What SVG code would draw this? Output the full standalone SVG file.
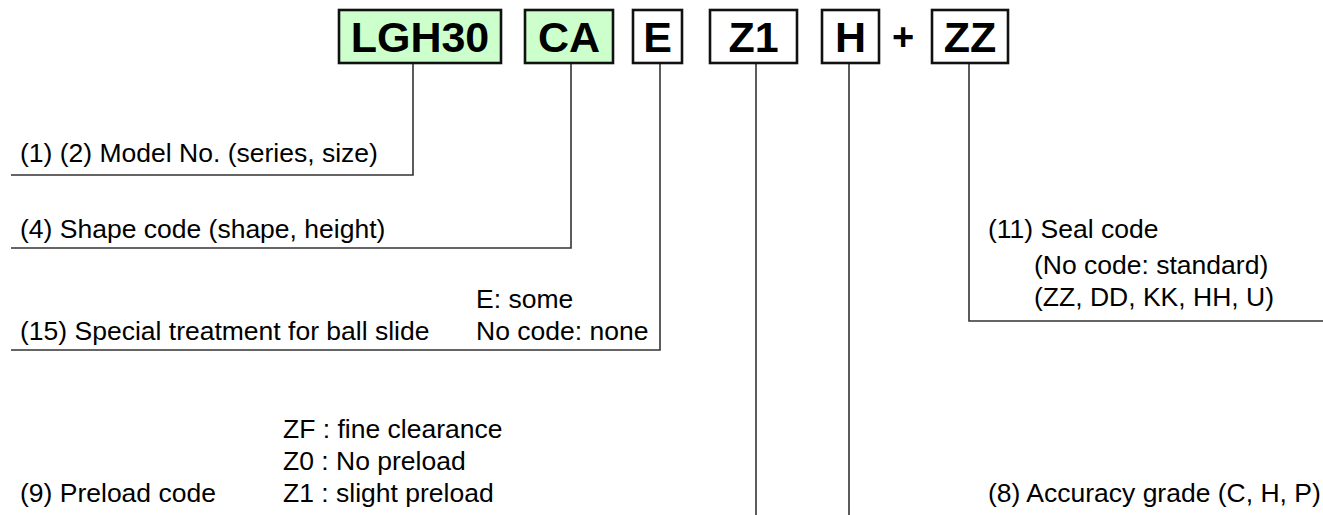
<svg xmlns="http://www.w3.org/2000/svg" width="1323" height="515" viewBox="0 0 1323 515">
<style>
.box{stroke:#111;stroke-width:2.6;}
.g{fill:#ccffcc;}
.w{fill:#ffffff;}
.code{font-family:"Liberation Sans",Arial,sans-serif;font-weight:bold;font-size:43px;text-anchor:middle;fill:#000;}
.lbl{font-family:"Liberation Sans",Arial,sans-serif;font-size:26.5px;fill:#000;}
.ln{fill:none;stroke:#333;stroke-width:1.6;}
</style>
<rect width="1323" height="515" fill="#fff"/>
<g id="connectors">
<polyline class="ln" points="413,63 413,175 11,175"/>
<polyline class="ln" points="571,63 571,248 11,248"/>
<polyline class="ln" points="660,63 660,350 11,350"/>
<polyline class="ln" points="756,63 756,515"/>
<polyline class="ln" points="849,63 849,515"/>
<polyline class="ln" points="969,63 969,321 1323,321"/>
</g>
<g id="n-lgh30"><rect class="box g" x="339" y="10" width="162" height="53"/><text class="code" x="420" y="52">LGH30</text></g>
<g id="n-ca"><rect class="box g" x="525" y="10" width="88" height="53"/><text class="code" x="569" y="52">CA</text></g>
<g id="n-e"><rect class="box w" x="633" y="10" width="49" height="53"/><text class="code" x="657.5" y="52">E</text></g>
<g id="n-z1"><rect class="box w" x="710" y="10" width="87" height="53"/><text class="code" x="753.5" y="52">Z1</text></g>
<g id="n-h"><rect class="box w" x="822" y="10" width="57" height="53"/><text class="code" x="850.5" y="52">H</text></g>
<g id="n-plus"><text class="code" x="903" y="50" style="font-size:38px">+</text></g>
<g id="n-zz"><rect class="box w" x="932" y="10" width="76" height="53"/><text class="code" x="970" y="52">ZZ</text></g>
<g id="l-model"><text class="lbl" x="20" y="162">(1) (2) Model No. (series, size)</text></g>
<g id="l-shape"><text class="lbl" x="20" y="238">(4) Shape code (shape, height)</text></g>
<g id="l-special"><text class="lbl" x="20" y="340">(15) Special treatment for ball slide</text>
<text class="lbl" x="476" y="308">E: some</text><text class="lbl" x="476" y="340">No code: none</text></g>
<g id="l-preload"><text class="lbl" x="20" y="502">(9) Preload code</text>
<text class="lbl" x="283" y="438">ZF : fine clearance</text>
<text class="lbl" x="283" y="470">Z0 : No preload</text>
<text class="lbl" x="283" y="502">Z1 : slight preload</text></g>
<g id="l-seal"><text class="lbl" x="988" y="238">(11) Seal code</text>
<text class="lbl" x="1034" y="274">(No code: standard)</text>
<text class="lbl" x="1034" y="306">(ZZ, DD, KK, HH, U)</text></g>
<g id="l-acc"><text class="lbl" x="988" y="502">(8) Accuracy grade (C, H, P)</text></g>
</svg>
